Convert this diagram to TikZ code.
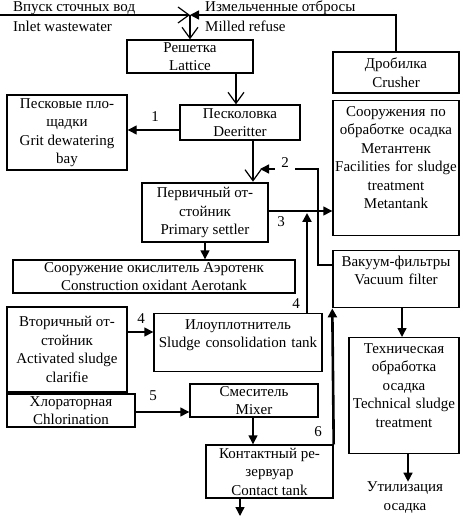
\documentclass[tikz,border=0pt]{standalone}
\usepackage{fontspec}
\setmainfont{Liberation Serif}
\usetikzlibrary{arrows.meta}

\begin{document}
\begin{tikzpicture}[x=1pt,y=-1pt,
		every node/.style={font=\fontsize{15}{18.5}\selectfont},
		block/.style={draw,line width=1.4pt,align=center,inner sep=0pt},
		thickblock/.style={block,line width=2.6pt},
		topblock/.style={block,anchor=north,text height=10.5pt,inner ysep=5pt},
		feed/.style={line width=1.4pt,-{Triangle[length=9pt,width=9pt]}},
		barb/.style={line width=1.2pt,-{Straight Barb[length=11pt,width=16pt]}},
		heavy/.style={line width=2.6pt},
		num/.style={inner sep=0pt}]
		\useasboundingbox (0,0) rectangle (461,518);
		\node[anchor=west,inner sep=0pt] (inlettext) at (13,8) {Впуск сточных вод};
		\node[anchor=west,inner sep=0pt] (inlettexten) at (13,26) {Inlet wastewater};
		\node[anchor=west,inner sep=0pt] (refusetext) at (205,8) {Измельченные отбросы};
		\node[anchor=west,inner sep=0pt] (refusetexten) at (205,26) {Milled refuse};
		\node[block,minimum width=126,minimum height=33] (lattice) at (190,56.5) {Решетка\\Lattice};
		\node[block,minimum width=126,minimum height=41] (crusher) at (396,72.5) {Дробилка\\Crusher};
		\node[block,minimum width=120,minimum height=75] (grit) at (67,132.5) {Песковые пло-\\щадки\\Grit dewatering\\bay};
		\node[block,minimum width=120,minimum height=35] (deritter) at (240,122.5) {Песколовка\\Deeritter};
		\node[topblock,text width=126,text depth=114.5] (metantank) at (396,100) {Сооружения по\\обработке осадка\\Метантенк\\Facilities for sludge\\treatment\\Metantank};
		\node[thickblock,minimum width=126,minimum height=59] (primary) at (205,212.5) {Первичный от-\\стойник\\Primary settler};
		\node[block,minimum width=282,minimum height=33] (aerotank) at (154,276.5) {Сооружение окислитель Аэротенк\\Construction oxidant Aerotank};
		\node[topblock,text width=126,text depth=36.5] (vacuum) at (396,250) {Вакуум-фильтры\\Vacuum filter};
		\node[block,minimum width=120,minimum height=85] (secondary) at (67,349.5) {Вторичный от-\\стойник\\Activated sludge\\clarifie};
		\node[topblock,text width=168,text depth=37.5] (consolidation) at (238,313) {Илоуплотнитель\\Sludge consolidation tank};
		\node[block,minimum width=128,minimum height=33] (chlorination) at (71,410.5) {Хлораторная\\Chlorination};
		\node[block,minimum width=128,minimum height=33] (mixer) at (254,400.5) {Смеситель\\Mixer};
		\node[block,minimum width=127,minimum height=53] (contact) at (269.5,471.5) {Контактный ре-\\зервуар\\Contact tank};
		\node[topblock,text width=110,text depth=95.5] (technical) at (404,337) {Техническая\\обработка\\осадка\\Technical sludge\\treatment};
		\node[align=center,inner sep=0pt] (utilization) at (405,497.5) {Утилизация\\осадка};
		\coordinate (inlet) at (0,15);
		\coordinate (junction) at (190,15);
		\coordinate (return) at (260,169);
		\coordinate (outlet) at (240,516);
		\draw[barb] (inlet) -- (junction);
		\draw[barb] (junction) -- (lattice.north);
		\draw[feed] (crusher.north) |- (junction);
		\draw[barb] (lattice.south -| 236,0) -- (deritter.north -| 236,0);
		\draw[feed] (deritter.west |- 0,130) -- (grit.east |- 0,130);
		\draw[barb] (deritter.south -| 253,0) -- (primary.north -| 253,0);
		\draw[feed] (vacuum.west |- 0,265) -| (318,169) -- (return);
		\draw[feed] (primary.east |- 0,211) -- (metantank.west |- 0,211);
		\draw[feed,heavy] (consolidation.north -| 307,0) -- (307,213);
		\draw[feed] (primary.south) -- (primary.south |- aerotank.north);
		\draw[feed] (vacuum.south -| 402,0) -- (technical.north -| 402,0);
		\draw[feed] (technical.south -| 408,0) -- (utilization.north -| 408,0);
		\draw[feed] (secondary.east |- 0,332) -- (consolidation.west |- 0,332);
		\draw[feed] (chlorination.east |- 0,412) -- (mixer.west |- 0,412);
		\draw[feed] (mixer.south -| 253,0) -- (contact.north -| 253,0);
		\draw[feed,heavy] (contact.north east) -- (vacuum.south west);
		\draw[feed] (contact.south -| outlet) -- (outlet);
		\node[num] at (155,117) {1};
		\node[num,fill=white,minimum width=20,inner ysep=3pt] at (285,163) {2};
		\node[num] at (281,222) {3};
		\node[num] at (296,304) {4};
		\node[num] at (141,319) {4};
		\node[num] at (153,396) {5};
		\node[num] at (318,432) {6};
	\end{tikzpicture}
\end{document}
